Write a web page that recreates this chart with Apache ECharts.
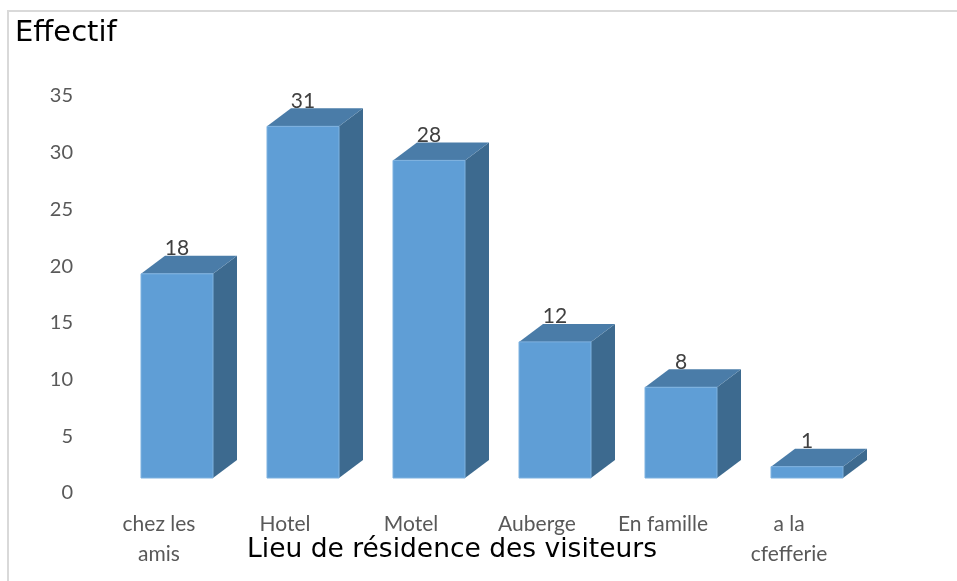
<!DOCTYPE html>
<html>
<head>
<meta charset="utf-8">
<script src="https://cdn.jsdelivr.net/npm/echarts@6/dist/echarts.min.js"></script>
<style>
  html, body { margin: 0; padding: 0; background: #fff; }
  #chart { width: 957px; height: 581px; }
</style>
</head>
<body>
<div id="chart"></div>
<script>
// données
const categories = ['chez les\namis', 'Hotel', 'Motel', 'Auberge', 'En famille', 'a la\ncfefferie'];
const effectifs = [18, 31, 28, 12, 8, 1];
const yTicks = { min: 0, max: 35, interval: 5 };

// faux relief 3D façon Excel
const FRONT = '#5f9ed6';
const TOP = '#4a7ca8';
const SIDE = '#3d6a8f';
const barW = 72, barShift = -18, depthX = 24, depthY = -18, floorLift = -15;

const chart = echarts.init(document.getElementById('chart'));

function renderBar(params, api) {
  const base = api.coord([api.value(0), 0]);
  const top = api.coord([api.value(0), api.value(1)]);
  const x0 = base[0] + barShift;
  const yb = base[1] + floorLift;
  const yt = top[1] + floorLift;
  return {
    type: 'group',
    children: [
      {
        type: 'polygon',
        shape: { points: [[x0 + barW, yt], [x0 + barW + depthX, yt + depthY], [x0 + barW + depthX, yb + depthY], [x0 + barW, yb]] },
        style: { fill: SIDE }
      },
      {
        type: 'polygon',
        shape: { points: [[x0, yt], [x0 + barW, yt], [x0 + barW + depthX, yt + depthY], [x0 + depthX, yt + depthY]] },
        style: { fill: TOP }
      },
      {
        type: 'rect',
        shape: { x: x0, y: yt, width: barW, height: yb - yt },
        style: { fill: FRONT, stroke: '#7fb2e0', lineWidth: 1 }
      },
      {
        type: 'text',
        x: x0 + barW / 2,
        y: yt + depthY + 3,
        style: {
          text: String(api.value(1)),
          fill: '#404040',
          font: '21px Lato',
          align: 'center',
          verticalAlign: 'bottom'
        }
      }
    ]
  };
}

chart.setOption({
  animation: false,
  grid: { left: 96, right: 105, top: 96, bottom: 88 },
  xAxis: {
    type: 'category',
    data: categories,
    axisLine: { show: false },
    axisTick: { show: false },
    axisLabel: {
      color: '#595959',
      fontFamily: 'Lato',
      fontSize: 21,
      lineHeight: 30,
      margin: 16,
      interval: 0
    }
  },
  yAxis: {
    type: 'value',
    min: yTicks.min,
    max: yTicks.max,
    interval: yTicks.interval,
    axisLine: { show: false },
    axisTick: { show: false },
    splitLine: { show: false },
    axisLabel: {
      color: '#595959',
      fontFamily: 'Lato',
      fontSize: 20,
      margin: 23
    }
  },
  series: [{
    type: 'custom',
    renderItem: renderBar,
    data: effectifs.map((v, i) => [i, v]),
    encode: { x: 0, y: 1 }
  }],
  graphic: [
    {
      type: 'rect',
      shape: { x: 8, y: 11, width: 980, height: 600 },
      style: { fill: 'none', stroke: '#d9d9d9', lineWidth: 2 }
    },
    {
      type: 'text',
      left: 15,
      top: 19,
      style: { text: 'Effectif', font: '29px "DejaVu Sans"', fill: '#000' }
    },
    {
      type: 'text',
      x: 452,
      y: 550,
      style: {
        text: 'Lieu de résidence des visiteurs',
        font: '26.5px "DejaVu Sans"',
        fill: '#000',
        align: 'center',
        verticalAlign: 'middle'
      }
    }
  ]
});
</script>
</body>
</html>
